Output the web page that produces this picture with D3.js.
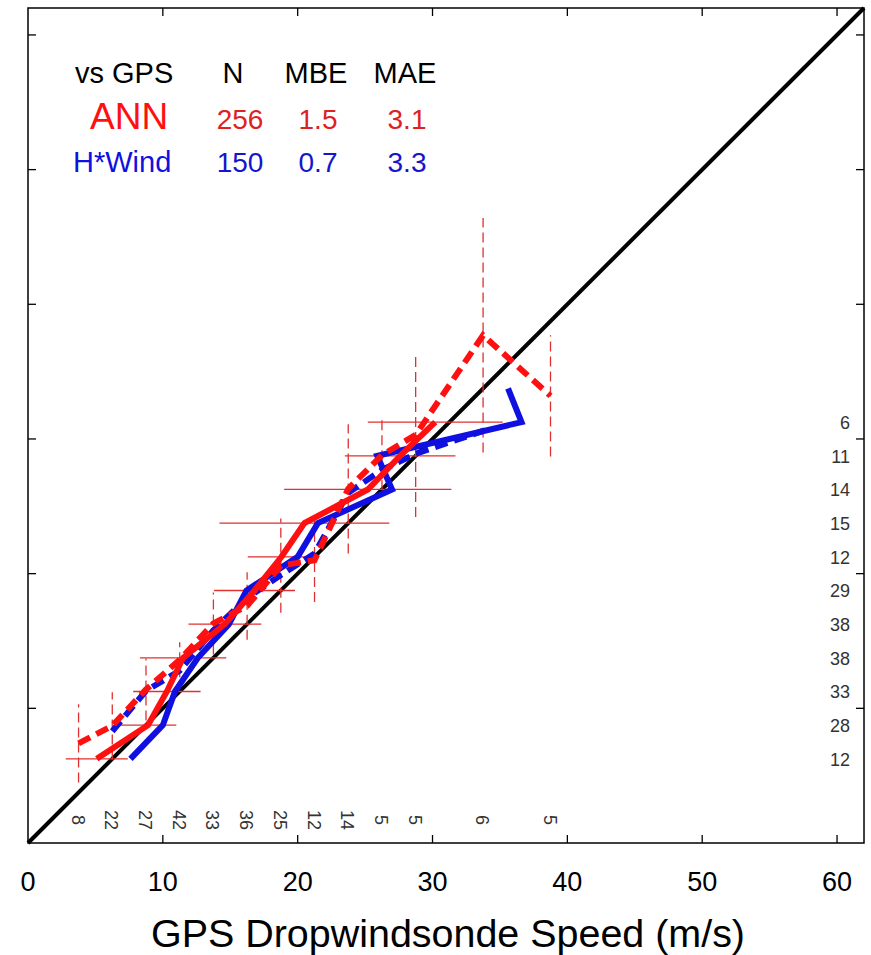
<!DOCTYPE html>
<html>
<head>
<meta charset="utf-8">
<script src="https://cdn.jsdelivr.net/npm/d3@7"></script>
<style>
  body { margin: 0; background: #fff; }
  text { font-family: "Liberation Sans", Arial, sans-serif; }
</style>
</head>
<body>
<div id="chart"></div>
<script>
// GPS speed bins (x) -> ANN and H*Wind mean estimate
const gpsBins = [3.75, 6.25, 8.75, 11.25, 13.75, 16.25, 18.75, 21.25, 23.75, 26.25, 28.75, 33.75, 38.75];
const annByGps = [7.4, 8.7, 11.4, 13.6, 16.3, 17.6, 20.6, 21.0, 26.3, 28.8, 30.3, 37.7, 33.2];
const annByGpsStd = [2.9, 2.5, 2.3, 1.3, 2.3, 2.5, 3.5, 3.1, 4.8, 2.6, 6.1, 8.7, 4.5];
const gpsCounts = [8, 22, 27, 42, 33, 36, 25, 12, 14, 5, 5, 6, 5];

const hwindGpsBins = [6.25, 8.75, 11.25, 13.75, 16.25, 18.75, 21.25, 23.75, 26.25, 28.75, 33.75];
const hwindByGps = [8.3, 11.3, 12.8, 15.8, 18.2, 19.9, 21.5, 26.0, 27.7, 28.9, 30.6];

// ANN speed bins (y) -> mean GPS speed
const annBins = [6.25, 8.75, 11.25, 13.75, 16.25, 18.75, 21.25, 23.75, 26.25, 28.75, 31.25];
const gpsByAnn = [5.1, 8.9, 10.3, 11.5, 14.6, 16.8, 18.8, 20.5, 25.2, 27.6, 30.2];
const gpsByAnnStd = [2.3, 2.1, 2.5, 3.2, 2.7, 3.0, 2.5, 6.3, 6.2, 4.1, 5.0];
const annCounts = [12, 28, 33, 38, 38, 29, 12, 15, 14, 11, 6];

// H*Wind speed bins (y) -> mean GPS speed
const hwindBins = [6.25, 8.75, 11.25, 13.75, 16.25, 18.75, 21.25, 23.75, 26.25, 28.75, 31.25, 33.75];
const gpsByHwind = [7.6, 10.0, 10.9, 12.6, 14.9, 16.2, 20.0, 21.5, 27.0, 25.9, 36.6, 35.6];

const xTicks = [0, 10, 20, 30, 40, 50, 60];
const statHeader = ["vs GPS", "N", "MBE", "MAE"];
const statRows = [
  { name: "ANN", n: "256", mbe: "1.5", mae: "3.1" },
  { name: "H*Wind", n: "150", mbe: "0.7", mae: "3.3" }
];

const config = {
  width: 871, height: 955,
  margin: { left: 28, right: 7, top: 8, bottom: 112 },
  red: "#ff1010", redThin: "#e03030", blue: "#1010e0"
};

const iw = config.width - config.margin.left - config.margin.right;
const ih = config.height - config.margin.top - config.margin.bottom;

const svg = d3.select("#chart").append("svg")
  .attr("width", config.width)
  .attr("height", config.height);

const g = svg.append("g")
  .attr("transform", `translate(${config.margin.left},${config.margin.top})`);

const x = d3.scaleLinear().domain([0, 62]).range([0, iw]);
const y = d3.scaleLinear().domain([0, 62]).range([ih, 0]);

// 1:1 line
g.append("line")
  .attr("x1", x(0)).attr("y1", y(0))
  .attr("x2", x(62)).attr("y2", y(62))
  .attr("stroke", "#000").attr("stroke-width", 4);

// vertical error bars (ANN binned by GPS)
g.append("g").selectAll("line")
  .data(gpsBins.map((b, i) => ({ b, m: annByGps[i], s: annByGpsStd[i] })))
  .enter().append("line")
  .attr("x1", d => x(d.b)).attr("x2", d => x(d.b))
  .attr("y1", d => y(d.m - d.s)).attr("y2", d => y(d.m + d.s))
  .attr("stroke", config.redThin).attr("stroke-width", 1.3)
  .attr("stroke-dasharray", "10,5");

// horizontal error bars (GPS binned by ANN)
g.append("g").selectAll("line")
  .data(annBins.map((b, i) => ({ b, m: gpsByAnn[i], s: gpsByAnnStd[i] })))
  .enter().append("line")
  .attr("y1", d => y(d.b)).attr("y2", d => y(d.b))
  .attr("x1", d => x(d.m - d.s)).attr("x2", d => x(d.m + d.s))
  .attr("stroke", config.redThin).attr("stroke-width", 1.3);

const line = d3.line().x(p => x(p[0])).y(p => y(p[1]));

const series = [
  { pts: gpsByHwind.map((v, i) => [v, hwindBins[i]]), color: config.blue, dash: null },
  { pts: hwindGpsBins.map((b, i) => [b, hwindByGps[i]]), color: config.blue, dash: "13,7" },
  { pts: gpsByAnn.map((v, i) => [v, annBins[i]]), color: config.red, dash: null },
  { pts: gpsBins.map((b, i) => [b, annByGps[i]]), color: config.red, dash: "13,7" }
];

g.append("g").selectAll("path")
  .data(series)
  .enter().append("path")
  .attr("fill", "none")
  .attr("stroke", d => d.color)
  .attr("stroke-width", 6)
  .attr("stroke-linejoin", "miter")
  .attr("stroke-dasharray", d => d.dash)
  .attr("d", d => line(d.pts));

// frame
g.append("rect")
  .attr("width", iw).attr("height", ih)
  .attr("fill", "none").attr("stroke", "#000").attr("stroke-width", 1.5);

// inward ticks on all four sides
const tickLen = 8;
const tickG = g.append("g").attr("stroke", "#000").attr("stroke-width", 1.3);
xTicks.slice(1).forEach(t => {
  tickG.append("line").attr("x1", x(t)).attr("x2", x(t)).attr("y1", ih).attr("y2", ih - tickLen);
  tickG.append("line").attr("x1", x(t)).attr("x2", x(t)).attr("y1", 0).attr("y2", tickLen);
  tickG.append("line").attr("y1", y(t)).attr("y2", y(t)).attr("x1", 0).attr("x2", tickLen);
  tickG.append("line").attr("y1", y(t)).attr("y2", y(t)).attr("x1", iw).attr("x2", iw - tickLen);
});

// x tick labels
g.append("g").selectAll("text")
  .data(xTicks)
  .enter().append("text")
  .attr("x", d => x(d)).attr("y", ih + 48)
  .attr("text-anchor", "middle")
  .attr("font-size", 27)
  .text(d => d);

// x title
g.append("text")
  .attr("x", iw / 2 + 2).attr("y", ih + 104)
  .attr("text-anchor", "middle")
  .attr("font-size", 38)
  .attr("textLength", 594)
  .attr("lengthAdjust", "spacingAndGlyphs")
  .text("GPS Dropwindsonde Speed (m/s)");

// counts along bottom (per GPS bin), rotated
g.append("g").selectAll("text")
  .data(gpsBins.map((b, i) => ({ b, c: gpsCounts[i] })))
  .enter().append("text")
  .attr("transform", d => `translate(${x(d.b) - 7},${ih - 23}) rotate(90)`)
  .attr("text-anchor", "middle")
  .attr("font-size", 18)
  .attr("fill", "#333")
  .text(d => d.c);

// counts on the right (per ANN bin)
g.append("g").selectAll("text")
  .data(annBins.map((b, i) => ({ b, c: annCounts[i] })))
  .enter().append("text")
  .attr("x", iw - 14).attr("y", d => y(d.b) + 7)
  .attr("text-anchor", "end")
  .attr("font-size", 18)
  .attr("fill", "#333")
  .text(d => d.c);

// stats table
const colX = [null, 233, 316, 405];
const head = svg.append("g").attr("font-size", 29);
head.append("text").attr("x", 75).attr("y", 83).text(statHeader[0]);
statHeader.slice(1).forEach((h, i) => {
  head.append("text").attr("x", colX[i + 1]).attr("y", 83).attr("text-anchor", "middle").text(h);
});

const rowStyle = [
  { y: 129, color: config.red, numColor: "#dd2222", nameSize: 37, nameX: 90 },
  { y: 172, color: config.blue, numColor: "#1515cc", nameSize: 29, nameX: 73 }
];
statRows.forEach((r, i) => {
  const s = rowStyle[i];
  svg.append("text").attr("x", s.nameX).attr("y", s.y)
    .attr("font-size", s.nameSize).attr("fill", s.color).text(r.name);
  [r.n, r.mbe, r.mae].forEach((v, j) => {
    svg.append("text").attr("x", colX[j + 1] + (j === 0 ? 7 : 2)).attr("y", s.y)
      .attr("text-anchor", "middle").attr("font-size", 28)
      .attr("fill", s.numColor).text(v);
  });
});
</script>
</body>
</html>
